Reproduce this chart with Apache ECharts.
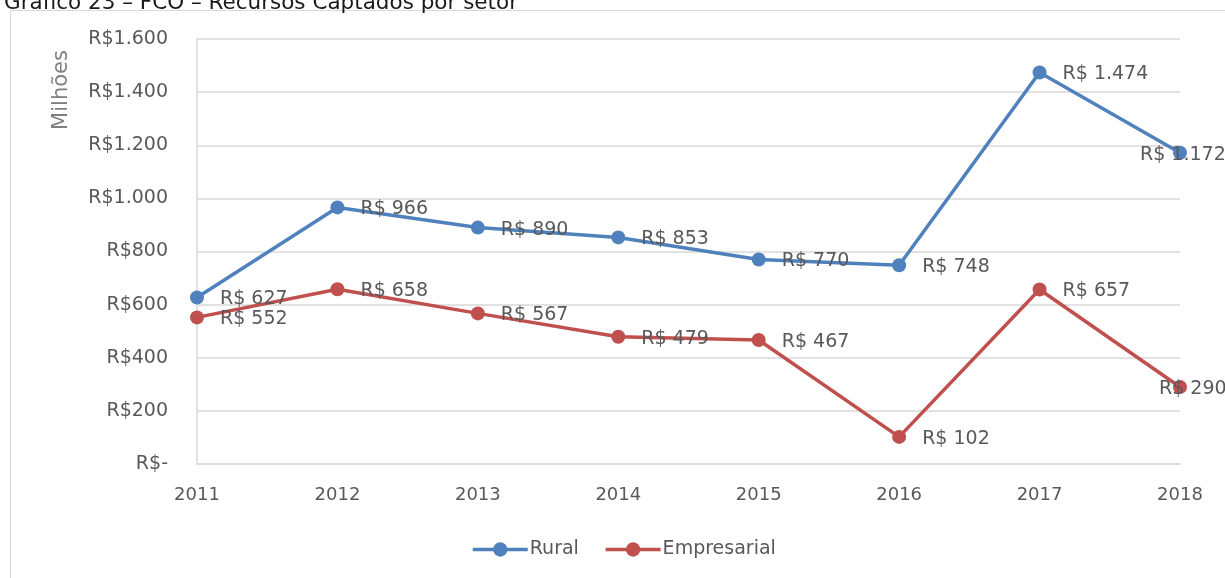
<!DOCTYPE html>
<html>
<head>
<meta charset="utf-8">
<script src="https://cdn.jsdelivr.net/npm/echarts@6/dist/echarts.min.js"></script>
<style>
  html, body { margin: 0; padding: 0; background: #fff; }
  #chart { width: 1225px; height: 578px; }
</style>
</head>
<body>
<div id="chart"></div>
<script>
  // dados do gráfico (R$ milhões)
  const anos = ['2011', '2012', '2013', '2014', '2015', '2016', '2017', '2018']
  const rural = [627, 966, 890, 853, 770, 748, 1474, 1172]
  const empresarial = [552, 658, 567, 479, 467, 102, 657, 290]
  const ticksY = [0, 200, 400, 600, 800, 1000, 1200, 1400, 1600]

  const fonte = 'DejaVu Sans, Verdana, sans-serif'
  const cinza = '#595959'

  const fmtEixo = v => {
    if (v === 0) return 'R$-'
    return 'R$' + v.toLocaleString('de-DE')
  }
  const fmtRotulo = p => 'R$ ' + p.value.toLocaleString('de-DE')

  // o último rótulo fica empurrado para dentro da área do gráfico
  const comRotulos = (valores, deslocFinal) => valores.map((v, i) => {
    if (i !== valores.length - 1) return v
    return { value: v, label: { offset: [deslocFinal, 2] } }
  })

  const rotulo = {
    show: true, position: 'right', distance: 16, offset: [0, 2],
    fontFamily: fonte, fontSize: 19, color: cinza, formatter: fmtRotulo
  }

  const chart = echarts.init(document.getElementById('chart'))

  const option = {
    animation: false,
    textStyle: { fontFamily: fonte },
    title: {
      text: 'Gráfico 23 – FCO – Recursos Captados por setor',
      left: -1,
      top: -13,
      textStyle: { fontFamily: fonte, fontSize: 21.5, fontWeight: 'normal', color: '#1a1a1a' }
    },
    graphic: [
      {
        type: 'rect',
        shape: { x: 10.5, y: 10.5, width: 1230, height: 600 },
        style: { fill: 'none', stroke: '#d9d9d9', lineWidth: 1 },
        silent: true,
        z: -10
      },
      {
        type: 'text',
        x: 62, y: 90,
        rotation: Math.PI / 2,
        style: {
          text: 'Milhões', fontFamily: fonte, fontSize: 21, fill: '#7f7f7f',
          align: 'center', verticalAlign: 'middle'
        },
        silent: true
      }
    ],
    grid: { left: 197, right: 45, top: 39, bottom: 114, containLabel: false },
    legend: {
      bottom: 14,
      left: 466,
      itemWidth: 55,
      itemHeight: 18,
      itemGap: 25,
      lineStyle: { width: 3.5 },
      textStyle: { fontFamily: fonte, fontSize: 19, color: cinza, padding: [0, 0, 0, -3] },
      data: ['Rural', 'Empresarial']
    },
    xAxis: {
      type: 'category',
      data: anos,
      boundaryGap: false,
      axisLine: { lineStyle: { color: '#d9d9d9', width: 1.5 } },
      axisTick: { show: false },
      axisLabel: { fontFamily: fonte, fontSize: 18, color: cinza, margin: 22 }
    },
    yAxis: {
      type: 'value',
      min: ticksY[0],
      max: ticksY[ticksY.length - 1],
      interval: 200,
      axisLine: { show: true, lineStyle: { color: '#d9d9d9', width: 1.5 } },
      axisTick: { show: false },
      axisLabel: { fontFamily: fonte, fontSize: 19, color: cinza, margin: 29, formatter: fmtEixo },
      splitLine: { lineStyle: { color: '#d9d9d9', width: 1.5 } }
    },
    series: [
      {
        name: 'Rural',
        type: 'line',
        data: comRotulos(rural, -63),
        color: '#4f81bd',
        symbol: 'circle',
        symbolSize: 14,
        lineStyle: { width: 3.5 },
        label: rotulo,
        z: 3
      },
      {
        name: 'Empresarial',
        type: 'line',
        data: comRotulos(empresarial, -44),
        color: '#c0504d',
        symbol: 'circle',
        symbolSize: 14,
        lineStyle: { width: 3.5 },
        label: rotulo,
        z: 2
      }
    ]
  }

  chart.setOption(option, true)

  window.addEventListener('resize', () => chart.resize())
</script>
</body>
</html>
